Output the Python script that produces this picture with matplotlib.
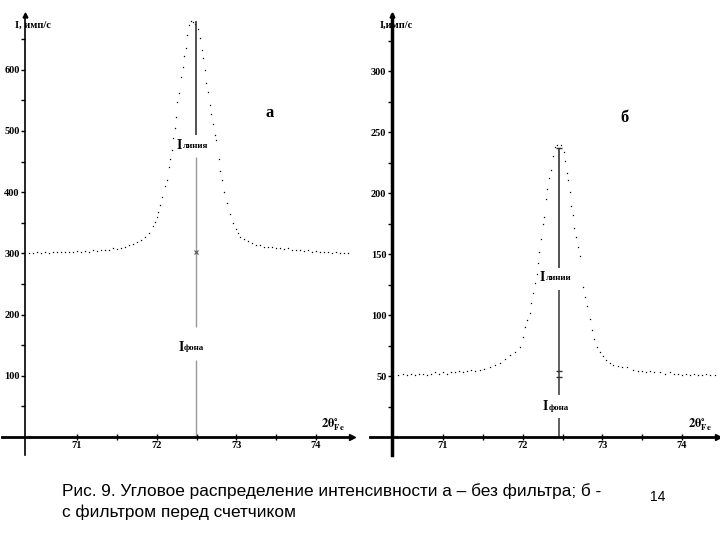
import numpy as np
import matplotlib
matplotlib.use("Agg")
import matplotlib.pyplot as plt

plt.rcParams['font.family'] = ['Liberation Serif', 'DejaVu Serif']
plt.rcParams['mathtext.fontset'] = 'stix'

# ---------------- data ----------------
angle_a = [70.40, 70.45, 70.50, 70.55, 70.60, 70.65, 70.70, 70.75, 70.80, 70.85,
           70.90, 70.95, 71.00, 71.05, 71.10, 71.15, 71.20, 71.25, 71.30, 71.35,
           71.40, 71.45, 71.50, 71.55, 71.60, 71.65, 71.70, 71.75, 71.80, 71.85,
           71.90, 71.95, 71.98, 72.00, 72.02, 72.04, 72.07, 72.10, 72.13, 72.15,
           72.17, 72.19, 72.20, 72.23, 72.24, 72.26, 72.28, 72.30, 72.33, 72.34,
           72.37, 72.38, 72.41, 72.43, 72.46, 72.48, 72.52, 72.54, 72.57, 72.58,
           72.61, 72.62, 72.64, 72.67, 72.68, 72.71, 72.73, 72.75, 72.78, 72.80,
           72.82, 72.85, 72.88, 72.92, 72.96, 72.99, 73.02, 73.05, 73.10, 73.15,
           73.20, 73.25, 73.30, 73.35, 73.40, 73.45, 73.50, 73.55, 73.60, 73.65,
           73.70, 73.75, 73.80, 73.85, 73.90, 73.95, 74.00, 74.05, 74.10, 74.15,
           74.20, 74.25, 74.30, 74.35, 74.40]
intens_a = [301, 300, 302, 301, 302, 301, 302, 303, 302, 302,
            303, 302, 304, 303, 304, 303, 305, 304, 306, 305,
            306, 308, 307, 309, 311, 313, 316, 318, 322, 326,
            334, 344, 351, 359, 368, 379, 392, 410, 420, 441,
            455, 469, 489, 505, 523, 547, 562, 588, 605, 623,
            636, 657, 673, 680, 678, 675, 667, 652, 632, 619,
            600, 578, 564, 542, 528, 511, 493, 485, 455, 435,
            420, 400, 382, 365, 350, 340, 333, 327, 323, 320,
            317, 314, 313, 311, 311, 310, 309, 308, 307, 308,
            306, 305, 306, 304, 305, 303, 304, 302, 303, 302,
            301, 302, 301, 300, 301]

angle_b = [70.44, 70.50, 70.55, 70.60, 70.65, 70.70, 70.75, 70.80, 70.85, 70.90,
           70.95, 71.00, 71.05, 71.10, 71.15, 71.20, 71.25, 71.30, 71.35, 71.40,
           71.46, 71.52, 71.59, 71.65, 71.72, 71.78, 71.84, 71.90, 71.97, 72.00,
           72.03, 72.06, 72.09, 72.11, 72.13, 72.16, 72.18, 72.19, 72.20, 72.23,
           72.25, 72.27, 72.29, 72.30, 72.33, 72.36, 72.38, 72.40, 72.43, 72.46,
           72.48, 72.52, 72.53, 72.56, 72.57, 72.59, 72.61, 72.63, 72.64, 72.67,
           72.69, 72.72, 72.76, 72.78, 72.81, 72.84, 72.87, 72.90, 72.93, 72.97,
           73.01, 73.05, 73.09, 73.13, 73.20, 73.25, 73.31, 73.38, 73.45, 73.50,
           73.55, 73.60, 73.65, 73.72, 73.78, 73.85, 73.90, 73.95, 74.00, 74.05,
           74.10, 74.15, 74.20, 74.25, 74.30, 74.35, 74.41]
intens_b = [51, 52, 51, 52, 51, 52, 52, 51, 52, 53,
            52, 53, 52, 53, 53, 54, 53, 54, 55, 54,
            55, 56, 57, 59, 61, 64, 67, 70, 74, 82,
            90, 96, 102, 110, 118, 126, 134, 143, 152, 162,
            175, 180, 195, 203, 212, 219, 230, 238, 239, 237,
            239, 234, 226, 216, 211, 201, 189, 182, 171, 164,
            156, 148, 123, 115, 107, 97, 88, 80, 74, 70,
            66, 63, 61, 59, 58, 57, 57, 55, 54, 54,
            53, 54, 53, 53, 52, 53, 52, 52, 51, 52,
            51, 52, 51, 51, 52, 51, 51]

xticks_major = [71, 72, 73, 74]
xticks_minor = [71.5, 72.5, 73.5]
yticks_a = [100, 200, 300, 400, 500, 600]
yticks_b = [50, 100, 150, 200, 250, 300]

# ---------------- figure ----------------
fig = plt.figure(figsize=(7.2, 5.4), dpi=100)
axA = fig.add_axes([0, 80 / 540, 360 / 720, 450 / 540])
axA.set_xlim(70.034, 74.551)
axA.set_ylim(-37.6, 697.7)
axB = fig.add_axes([362 / 720, 80 / 540, 358 / 720, 450 / 540])
axB.set_xlim(69.984, 74.476)
axB.set_ylim(-18.85, 350.0)


def setup(ax, x0, ybot, ytop, xl, xr, ymaj, ymin, lw_y):
    ax.patch.set_alpha(0)
    for s in ['top', 'right']:
        ax.spines[s].set_visible(False)
    ax.spines['left'].set_position(('data', x0))
    ax.spines['left'].set_bounds(ybot, ytop)
    ax.spines['left'].set_linewidth(lw_y)
    ax.spines['bottom'].set_position(('data', 0))
    ax.spines['bottom'].set_bounds(xl, xr)
    ax.spines['bottom'].set_linewidth(2)
    ax.set_xticks(xticks_major)
    ax.set_xticks(xticks_minor, minor=True)
    ax.set_xticklabels([str(v) for v in xticks_major])
    ax.set_yticks(ymaj)
    ax.set_yticks(ymin, minor=True)
    ax.set_yticklabels([str(v) for v in ymaj])
    ax.tick_params(axis='x', which='both', direction='inout', length=4, width=1,
                   labelsize=7.5, pad=1)
    ax.tick_params(axis='y', which='both', direction='out', length=3, width=1,
                   labelsize=7.5, pad=1)
    for lab in ax.get_xticklabels() + ax.get_yticklabels():
        lab.set_fontweight('bold')
    ax.plot([xr], [0], marker='>', ms=4, color='k', clip_on=False)
    ax.plot([x0], [ytop], marker='^', ms=3.5, color='k', clip_on=False)
    ax.text(x0 + 0.06, 0, '»', fontsize=6, ha='center', va='center')


setup(axA, 70.35, -29.4, 690, 70.06, 74.45, yticks_a,
      [50, 150, 250, 350, 450, 550, 650], 1.2)
setup(axB, 70.36, -14.75, 346, 70.08, 74.45, yticks_b,
      [25, 75, 125, 175, 225, 275, 325], 2.5)

axA.plot(angle_a, intens_a, linestyle='none', marker='s', ms=0.9, mew=0, color='k')
axB.plot(angle_b, intens_b, linestyle='none', marker='s', ms=0.9, mew=0, color='k')

# vertical guide lines (I line / I background)
pa = 72.49
axA.vlines(pa, 493, 680, color='#333333', lw=1.2)
axA.vlines(pa, 180, 457, color='#999999', lw=1)
axA.vlines(pa, 0, 126, color='#999999', lw=1)
axA.plot([pa], [302], marker='x', ms=3, color='#555555', mew=0.8)

pb = 72.455
axB.vlines(pb, 138.5, 237, color='#333333', lw=1.2)
axB.vlines(pb, 34.4, 120.5, color='#444444', lw=1.2)
axB.vlines(pb, 0, 15.6, color='#444444', lw=1.2)
axB.plot([pb, pb, pb], [237, 54, 49], linestyle='none', marker='_', ms=4,
         color='#333333', mew=1)


def ilabel(ax, x, y, word):
    ax.text(x, y, 'I', fontsize=10, fontweight='bold', ha='left', va='center')
    ax.annotate(word, xy=(x, y), xytext=(6, -1), textcoords='offset pixels',
                fontsize=6.5, fontweight='bold', ha='left', va='center')


ilabel(axA, 72.255, 477, 'линия')
ilabel(axA, 72.27, 147, 'фона')
ilabel(axB, 72.217, 131, 'линии')
ilabel(axB, 72.255, 24.6, 'фона')

# axis titles
axA.text(70.22, 673, 'I, имп/с', fontsize=7.5, fontweight='bold', ha='left', va='center')
axB.text(70.21, 337.7, 'I,имп/с', fontsize=7.5, fontweight='bold', ha='left', va='center')
axA.text(74.21, 19.6, r'$\mathbf{2\theta^{\circ}_{Fe}}$', fontsize=9, ha='center', va='center')
axB.text(74.22, 9.8, r'$\mathbf{2\theta^{\circ}_{Fe}}$', fontsize=9, ha='center', va='center')

axA.text(73.42, 529, 'а', fontsize=12, fontweight='bold', ha='center', va='center')
axB.text(73.28, 261.5, 'б', fontsize=12, fontweight='bold', ha='center', va='center')

cap_font = ['Liberation Sans Narrow', 'Liberation Sans', 'DejaVu Sans']
fig.text(62 / 720, 1 - 491 / 540,
         'Рис. 9. Угловое распределение интенсивности а – без фильтра; б -',
         fontsize=12.4, family=cap_font, ha='left', va='center')
fig.text(62 / 720, 1 - 512 / 540, 'с фильтром перед счетчиком',
         fontsize=12.4, family=cap_font, ha='left', va='center')
fig.text(650 / 720, 1 - 497 / 540, '14', fontsize=10, family=cap_font,
         ha='left', va='center')

fig.savefig('out.png', dpi=100)
